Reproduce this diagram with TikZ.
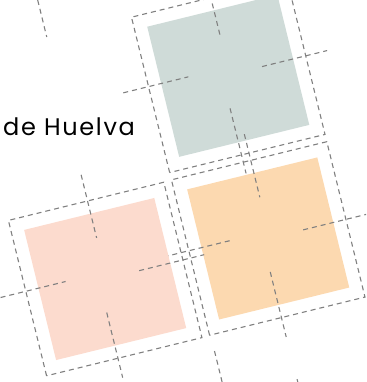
\documentclass[tikz,border=0pt]{standalone}
\usepackage{fontspec}
\setmainfont{Poppins}
\definecolor{sage}{RGB}{207,219,216}
\definecolor{apricot}{RGB}{252,217,176}
\definecolor{blush}{RGB}{252,219,206}
\definecolor{guidegray}{RGB}{128,128,128}

\begin{document}
\begin{tikzpicture}[x=1pt,y=1pt,
  guide/.style={draw=guidegray,line width=1.1pt,dash pattern=on 5pt off 4pt},
  tile/.style={fill=#1}]
\useasboundingbox (0,0) rectangle (366,382);
\clip (0,0) rectangle (366,382);
\node[anchor=base west,font=\fontsize{24}{29}\selectfont\addfontfeatures{LetterSpace=7},inner sep=0pt] (place) at (3,246.3) {de Huelva};
\begin{scope}[shift={(228.25,306.2)},rotate=13.8]
	% upper tile
	\fill[tile=sage](-67,-67) rectangle (67,67);
	\draw[guide](-80,-80) rectangle (80,80);
	\draw[guide](1.7,110)--(1.7,42);
	\draw[guide](-6,-32)--(-6,-99);
	\draw[guide](-106,8.5)--(-39,8.5);
	\draw[guide](35,0.9)--(102,0.9);
	\begin{scope}[yshift=-167.5pt]
		% lower right tile
		\fill[tile=apricot](-67,-67) rectangle (67,67);
		\draw[guide](-80,-80) rectangle (80,80);
		\draw[guide](1.7,107)--(1.7,42);
		\draw[guide](-6,-33)--(-6,-100);
		\draw[guide](-106,7)--(-38,7);
		\draw[guide](36,0)--(102,0);
	\end{scope}
	\begin{scope}[xshift=-168pt,yshift=-168pt]
		% lower left tile
		\fill[tile=blush](-67,-67) rectangle (67,67);
		\draw[guide](-80,-80) rectangle (80,80);
		\draw[guide](1.5,107)--(1.5,42);
		\draw[guide](-6.5,-33)--(-6.5,-100);
		\draw[guide](-106,7)--(-39,7);
		\draw[guide](35,0)--(102,0);
	\end{scope}
	% loose marks
	\draw[guide](-167,119)--(-167,81);
	\draw[guide](-79,-264)--(-79,-300);
	\draw[guide](-5.5,-311)--(-5.5,-330);
\end{scope}
\end{tikzpicture}
\end{document}
